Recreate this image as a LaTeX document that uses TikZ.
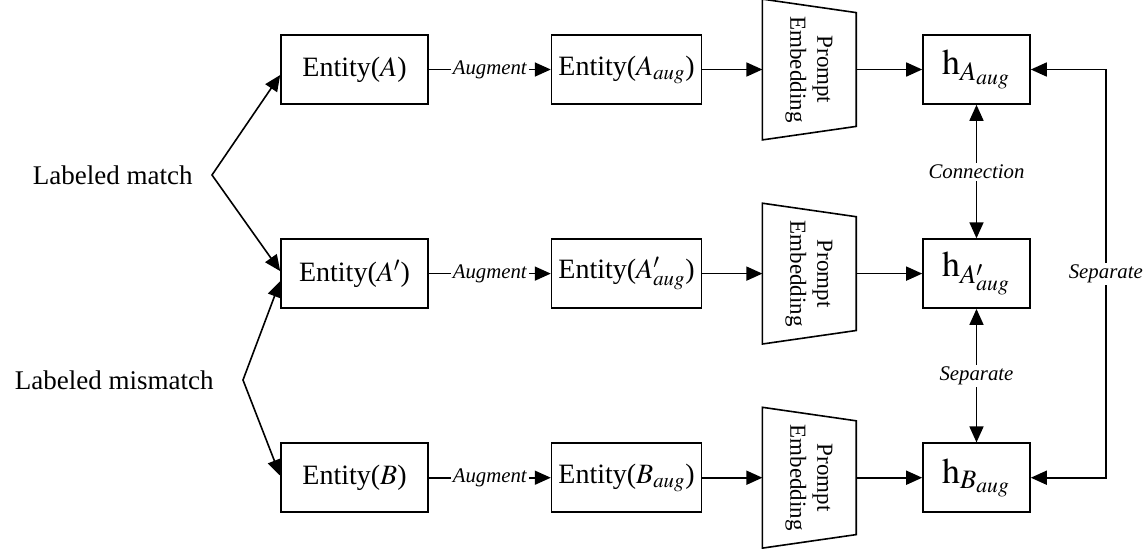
\documentclass[tikz,border=0pt]{standalone}
\usepackage{mathptmx}
\usepackage{fontspec}
\setmainfont{Liberation Serif}
\usepackage{graphicx}
\usetikzlibrary{positioning,arrows.meta,calc}
\tikzset{
  entbox/.style={draw, line width=0.8pt, minimum height=34.5pt, minimum width=73.5pt,
                 inner sep=0pt, align=center, font=\fontsize{14}{16}\selectfont},
  augbox/.style={entbox, minimum width=75pt},
  hbox/.style={entbox, minimum width=53.5pt, font=\fontsize{18}{21}\selectfont},
  embnode/.style={minimum width=46.5pt, minimum height=70pt, inner sep=0pt,
                  font=\fontsize{11.5}{13.5}\selectfont},
  sidetext/.style={inner sep=0pt, font=\fontsize{13.5}{16}\selectfont},
  edgelbl/.style={fill=white, inner sep=1pt, font=\fontsize{10.4}{12}\selectfont\itshape},
  arrow/.style={-{Triangle[length=8pt,width=7pt]}, line width=0.8pt},
  twoarrow/.style={{Triangle[length=8pt,width=7pt]}-{Triangle[length=8pt,width=7pt]}, line width=0.8pt},
}
\newcommand{\embtext}{\rotatebox{-90}{\begin{tabular}{@{}c@{}}Prompt\\Embedding\end{tabular}}}
\newcommand{\drawtrap}[1]{\draw[line width=0.8pt] (#1.north west) -- ($(#1.north east)+(0,-6.75pt)$)
  -- ($(#1.south east)+(0,6.75pt)$) -- (#1.south west) -- cycle;}

\begin{document}
\begin{tikzpicture}[node distance=66.75pt and 61pt]
  \useasboundingbox (-177.25pt,34.75pt) rectangle (395.75pt,-239.25pt);
  % entities
  \node[entbox]                   (entA)  at (0,0) {Entity($A$)};
  \node[entbox, below=of entA]    (entAp) {Entity($A'$)};
  \node[entbox, below=of entAp]   (entB)  {Entity($B$)};
  % augmented entities
  \node[augbox, right=of entA]    (augA)  {Entity($A_{aug}$)};
  \node[augbox, right=of entAp]   (augAp) {Entity($A'_{aug}$)};
  \node[augbox, right=of entB]    (augB)  {Entity($B_{aug}$)};
  % prompt embedding
  \node[embnode, right=30pt of augA]  (embA)  {\embtext};
  \node[embnode, right=30pt of augAp] (embAp) {\embtext};
  \node[embnode, right=30pt of augB]  (embB)  {\embtext};
  \drawtrap{embA}
  \drawtrap{embAp}
  \drawtrap{embB}
  % hidden vectors
  \node[hbox, right=33pt of embA]  (hA)  {$\mathrm{h}_{A_{aug}}$};
  \node[hbox, right=33pt of embAp] (hAp) {$\mathrm{h}_{A'_{aug}}$};
  \node[hbox, right=33pt of embB]  (hB)  {$\mathrm{h}_{B_{aug}}$};
  % labels on the left
  \node[sidetext, anchor=east] (match)    at (-80.75pt,-52.75pt)  {Labeled match};
  \node[sidetext, anchor=east] (mismatch) at (-70.25pt,-155.25pt) {Labeled mismatch};
  \coordinate[right=9.5pt of match]     (matchV);
  \coordinate[right=14.5pt of mismatch] (mismatchV);
  \draw[twoarrow] ($(entA.west)+(0,-2.75pt)$) -- (matchV) -- ($(entAp.west)+(0,1.25pt)$);
  \draw[twoarrow] ($(entAp.west)+(0,-3.75pt)$) -- (mismatchV) -- ($(entB.west)+(0,1pt)$);
  % rows
  \foreach \r in {A,Ap,B} {
    \draw[arrow] (ent\r) -- node[edgelbl] {Augment} (aug\r);
    \draw[arrow] (aug\r) -- (emb\r);
    \draw[arrow] (emb\r) -- (h\r);
  }
  % relations
  \draw[twoarrow] (hA) -- node[edgelbl] {Connection} (hAp);
  \draw[twoarrow] (hAp) -- node[edgelbl] {Separate} (hB);
  \coordinate[right=37.5pt of hA] (loopTop);
  \draw[twoarrow] (hA) -- (loopTop) -- node[edgelbl] {Separate} (loopTop |- hB) -- (hB);
\end{tikzpicture}
\end{document}
